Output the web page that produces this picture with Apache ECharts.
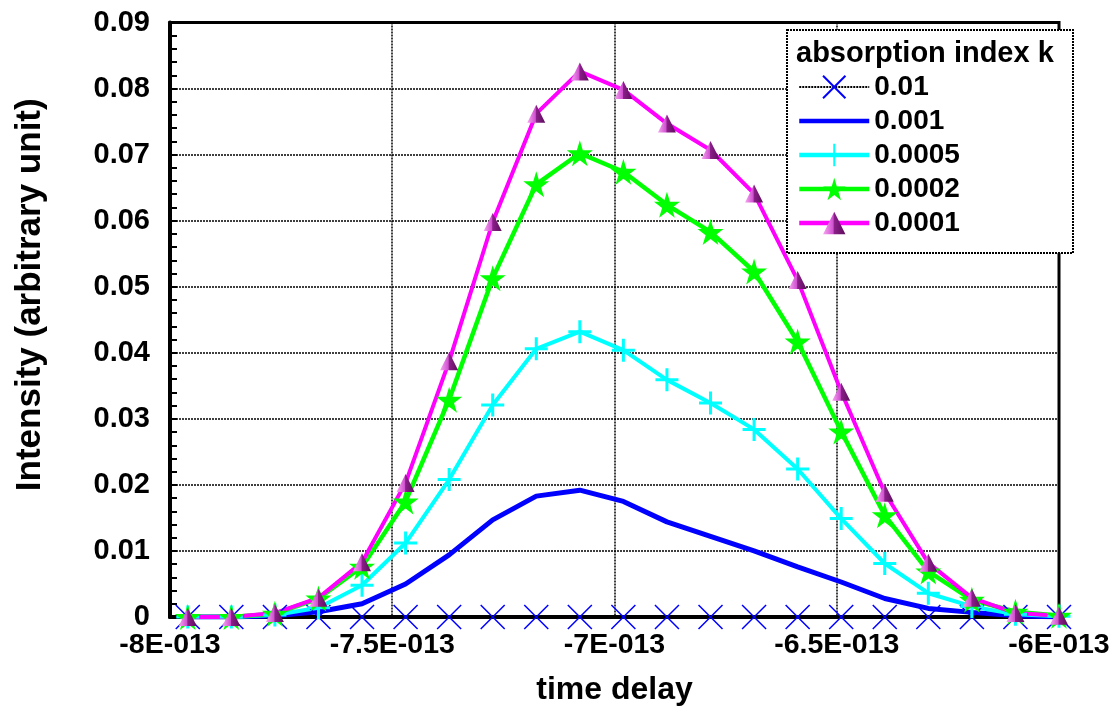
<!DOCTYPE html>
<html>
<head>
<meta charset="utf-8">
<script src="https://cdn.jsdelivr.net/npm/echarts@6/dist/echarts.min.js"></script>
<style>
html,body{margin:0;padding:0;background:#fff;}
#c{width:1115px;height:713px;}
</style>
</head>
<body>
<div id="c"></div>
<script>
// time delay (s)
var timeDelay = [-7.960e-13, -7.862e-13, -7.764e-13, -7.666e-13, -7.568e-13, -7.470e-13, -7.372e-13,
  -7.274e-13, -7.176e-13, -7.078e-13, -6.980e-13, -6.882e-13, -6.784e-13, -6.686e-13, -6.588e-13,
  -6.490e-13, -6.392e-13, -6.294e-13, -6.196e-13, -6.098e-13, -6.000e-13];
var k0_01 = [0,0,0,0,0,0,0,0,0,0,0,0,0,0,0,0,0,0,0,0,0];
var k0_001 = [0, 0, 0.0002, 0.0008, 0.0020, 0.0050, 0.0094, 0.0147, 0.0183, 0.0192, 0.0175,
  0.0144, 0.0122, 0.0100, 0.0076, 0.0053, 0.0028, 0.0013, 0.0007, 0.0002, 0];
var k0_0005 = [0, 0, 0.0003, 0.0014, 0.0048, 0.0112, 0.0208, 0.0321, 0.0406, 0.0432, 0.0404,
  0.0359, 0.0324, 0.0284, 0.0224, 0.0149, 0.0081, 0.0036, 0.0016, 0.0004, 0.0001];
var k0_0002 = [0, 0, 0.0005, 0.0028, 0.0076, 0.0175, 0.0329, 0.0513, 0.0655, 0.0702, 0.0674,
  0.0624, 0.0583, 0.0523, 0.0417, 0.0281, 0.0154, 0.0069, 0.0026, 0.0008, 0.0002];
var k0_0001 = [0, 0, 0.0006, 0.0029, 0.0083, 0.0203, 0.0387, 0.0598, 0.0762, 0.0826, 0.0798,
  0.0747, 0.0707, 0.0641, 0.0510, 0.0341, 0.0188, 0.0082, 0.0029, 0.0006, 0.0002];
var seriesNames = ['0.01', '0.001', '0.0005', '0.0002', '0.0001'];
var xTickLabels = ['-8E-013', '-7.5E-013', '-7E-013', '-6.5E-013', '-6E-013'];
var yTickLabels = ['0', '0.01', '0.02', '0.03', '0.04', '0.05', '0.06', '0.07', '0.08', '0.09'];
var legendTitle = 'absorption index k';
var xTitle = 'time delay';
var yTitle = 'Intensity (arbitrary unit)';

var FONT = "'Liberation Sans', Arial, sans-serif";
var X_MIN = -8e-13, X_INT = 0.5e-13, X_MAX = -6e-13;

function pairs(ys) { return ys.map(function (y, i) { return [timeDelay[i], y]; }); }

var STAR = 'path://M50,0 L61,35 L98,35 L68,57 L79,91 L50,70 L21,91 L32,57 L2,35 L39,35 Z';
var CROSS_X = 'path://M0,0 L10,10 M10,0 L0,10';
var PLUS = 'path://M5,0 L5,10 M0,5 L10,5';
var triGrad = {type: 'linear', x: 0, y: 0, x2: 1, y2: 0, colorStops: [
  {offset: 0, color: '#f7a6f2'}, {offset: 0.45, color: '#d050d0'},
  {offset: 0.5, color: '#8a1f88'}, {offset: 1, color: '#5c0d5c'}]};

var legendData = seriesNames.map(function (n, i) {
  return i === 0 ? {name: n} : {name: n, lineStyle: {width: 4.5}};
});

var chart = echarts.init(document.getElementById('c'), null, {renderer: 'canvas'});
chart.setOption({
  animation: false,
  backgroundColor: '#fff',
  textStyle: {fontFamily: FONT},
  grid: {left: 170, right: 56, top: 22.5, bottom: 96, show: true, borderColor: '#000', borderWidth: 3, backgroundColor: 'transparent'},
  title: {text: legendTitle, left: 796, top: 39, padding: 0, z: 10,
    textStyle: {fontFamily: FONT, fontSize: 29, fontWeight: 'bold', color: '#000'}},
  graphic: [{type: 'rect', z: 3, shape: {x: 787, y: 30, width: 286, height: 223},
    style: {fill: '#fff', stroke: '#000', lineWidth: 2, lineDash: [2, 1]}}],
  legend: {
    orient: 'vertical', left: 797, top: 73, z: 10, padding: 0,
    itemWidth: 70, itemHeight: 28, itemGap: 6,
    data: legendData,
    textStyle: {fontFamily: FONT, fontSize: 28, fontWeight: 'bold', color: '#000', lineHeight: 26}
  },
  xAxis: {
    type: 'value', min: X_MIN, max: X_MAX, interval: X_INT,
    name: xTitle, nameLocation: 'middle', nameGap: 57,
    nameTextStyle: {fontFamily: FONT, fontSize: 32, fontWeight: 'bold', color: '#000'},
    axisLine: {show: true, lineStyle: {color: '#000', width: 4}},
    axisTick: {show: false},
    axisLabel: {margin: 14, fontFamily: FONT, fontSize: 28.5, fontWeight: 'bold', color: '#000',
      formatter: function (v) { return xTickLabels[Math.round((v - X_MIN) / X_INT)]; }},
    splitLine: {show: true, lineStyle: {color: '#000', width: 1.5, type: [2, 1]}}
  },
  yAxis: {
    type: 'value', min: 0, max: 0.09, interval: 0.01,
    name: yTitle, nameLocation: 'middle', nameGap: 122, nameRotate: 90,
    nameTextStyle: {fontFamily: FONT, fontSize: 35, fontWeight: 'bold', color: '#000', padding: [0, 0, 0, 50]},
    axisLine: {show: true, lineStyle: {color: '#000', width: 4}},
    axisTick: {show: true, inside: true, length: 7, lineStyle: {color: '#000', width: 2}},
    minorTick: {show: true, splitNumber: 5, length: 7, lineStyle: {color: '#000', width: 2}},
    axisLabel: {margin: 20, fontFamily: FONT, fontSize: 29, fontWeight: 'bold', color: '#000',
      formatter: function (v) { return yTickLabels[Math.round(v / 0.01)]; }},
    splitLine: {show: true, lineStyle: {color: '#000', width: 1.5, type: [2, 1]}}
  },
  series: [
    {name: seriesNames[0], type: 'line', data: pairs(k0_01), symbol: CROSS_X, symbolSize: 24,
      lineStyle: {color: '#000', width: 1.2, type: [2, 1]},
      itemStyle: {color: '#0000ff', borderColor: '#0000ff', borderWidth: 1.5}, z: 2},
    {name: seriesNames[1], type: 'line', data: pairs(k0_001), symbol: 'circle', showSymbol: false,
      lineStyle: {color: '#0000ff', width: 5}, itemStyle: {color: 'rgba(0,0,0,0)', borderWidth: 0}, z: 2},
    {name: seriesNames[2], type: 'line', data: pairs(k0_0005), symbol: PLUS, symbolSize: 23,
      lineStyle: {color: '#00ffff', width: 4},
      itemStyle: {color: '#00ffff', borderColor: '#00ffff', borderWidth: 3}, z: 2},
    {name: seriesNames[3], type: 'line', data: pairs(k0_0002), symbol: STAR, symbolSize: 26,
      lineStyle: {color: '#00ff00', width: 4.5},
      itemStyle: {color: '#00ff00'}, z: 2},
    {name: seriesNames[4], type: 'line', data: pairs(k0_0001), symbol: 'triangle', symbolSize: [18, 18],
      lineStyle: {color: '#ff00ff', width: 4},
      itemStyle: {color: triGrad}, z: 2}
  ]
});
</script>
</body>
</html>
